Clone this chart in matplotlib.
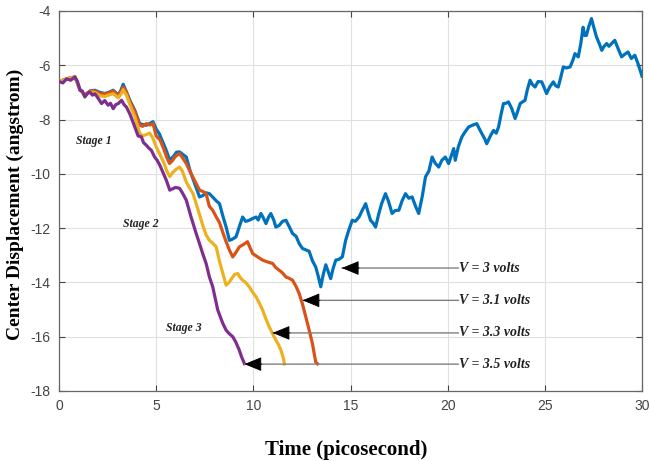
import matplotlib
matplotlib.use("Agg")
import matplotlib.pyplot as plt

plt.rcParams["axes.unicode_minus"] = False

# ---- data ----
blue_x = [0.0, 0.39, 0.82, 1.08, 1.33, 1.59, 1.85, 2.1, 2.36, 2.55, 2.79, 3.05, 3.2, 3.3, 3.47, 3.65, 3.9,
          4.15, 4.3, 4.5, 4.65, 4.84, 5.0, 5.16, 5.35, 5.5, 5.7, 5.9, 6.05, 6.2, 6.4, 6.55, 6.75, 7.0, 7.23,
          7.4, 7.57, 7.74, 7.9, 8.1, 8.26, 8.45, 8.6, 8.77, 8.94, 9.11, 9.3, 9.45, 9.6, 9.79, 9.95, 10.14,
          10.25, 10.39, 10.5, 10.65, 10.78, 10.9, 11.05, 11.16, 11.33, 11.5, 11.68, 11.85, 12.02, 12.2,
          12.36, 12.53, 12.7, 12.87, 13.04, 13.21, 13.35, 13.47, 13.6, 13.73, 13.85, 13.98, 14.1, 14.24,
          14.4, 14.58, 14.75, 14.9, 15.09, 15.25, 15.44, 15.6, 15.78, 15.9, 16.03, 16.15, 16.29, 16.46,
          16.6, 16.8, 16.95, 17.14, 17.3, 17.49, 17.65, 17.83, 18.0, 18.17, 18.35, 18.51, 18.7, 18.86,
          19.03, 19.2, 19.35, 19.54, 19.7, 19.88, 20.05, 20.2, 20.31, 20.39, 20.55, 20.73, 20.9, 21.08,
          21.3, 21.5, 21.6, 21.76, 21.9, 22.01, 22.2, 22.36, 22.5, 22.62, 22.75, 22.87, 23.0, 23.13, 23.3,
          23.47, 23.6, 23.73, 23.85, 23.98, 24.1, 24.24, 24.35, 24.5, 24.65, 24.84, 24.95, 25.09, 25.25,
          25.44, 25.55, 25.69, 25.8, 25.95, 26.1, 26.3, 26.45, 26.55, 26.72, 26.85, 26.97, 27.05, 27.14,
          27.25, 27.4, 27.5, 27.66, 27.8, 27.93, 28.05, 28.18, 28.3, 28.44, 28.6, 28.75, 28.95, 29.1,
          29.28, 29.45, 29.63, 29.8, 30.0]
blue_y = [-6.6, -6.5, -6.43, -6.9, -7.1, -6.95, -6.92, -7.0, -7.04, -7.0, -6.92, -7.1, -6.9, -6.7, -6.98,
          -7.3, -7.66, -8.15, -8.18, -8.21, -8.15, -8.08, -8.35, -8.52, -8.85, -9.1, -9.5, -9.35, -9.2,
          -9.19, -9.3, -9.38, -9.9, -10.4, -10.85, -10.8, -10.7, -10.73, -10.85, -11.0, -11.1, -11.6,
          -11.96, -12.45, -12.4, -12.32, -11.9, -11.59, -11.75, -11.71, -11.65, -11.59, -11.7, -11.46,
          -11.6, -11.83, -11.6, -11.46, -11.7, -11.96, -11.9, -11.75, -11.71, -11.95, -12.2, -12.3,
          -12.57, -12.75, -12.8, -12.85, -13.2, -13.43, -13.8, -14.16, -13.7, -13.35, -13.6, -13.86,
          -13.5, -13.18, -13.15, -13.06, -12.45, -12.1, -11.71, -11.75, -11.59, -11.35, -11.1, -11.4,
          -11.71, -11.8, -11.96, -11.46, -11.1, -10.73, -11.0, -11.46, -11.35, -11.34, -11.0, -10.73,
          -10.9, -10.85, -11.2, -11.46, -10.8, -10.11, -9.9, -9.38, -9.6, -9.75, -9.5, -9.38, -9.62,
          -9.3, -9.07, -9.5, -9.0, -8.64, -8.45, -8.27, -8.2, -8.15, -8.3, -8.52, -8.7, -8.89, -8.6,
          -8.4, -8.5, -8.27, -7.8, -7.41, -7.4, -7.35, -7.6, -7.96, -7.7, -7.41, -7.35, -7.29, -6.9,
          -6.55, -6.7, -6.8, -6.6, -6.61, -6.8, -7.04, -6.8, -6.61, -6.75, -6.8, -6.5, -6.06, -6.1,
          -6.06, -5.8, -5.57, -5.69, -5.2, -4.6, -4.9, -4.9, -4.6, -4.28, -4.55, -4.96, -5.2, -5.45,
          -5.3, -5.2, -5.3, -5.2, -5.08, -5.35, -5.69, -5.6, -5.51, -5.75, -5.63, -5.95, -6.4]

red_x = [0.0, 0.39, 0.82, 1.08, 1.33, 1.59, 1.85, 2.1, 2.36, 2.55, 2.79, 3.05, 3.2, 3.3, 3.47, 3.65, 3.9,
         4.15, 4.3, 4.5, 4.67, 4.84, 5.0, 5.2, 5.4, 5.55, 5.69, 5.85, 6.0, 6.2, 6.35, 6.55, 6.8, 7.06,
         7.23, 7.4, 7.57, 7.74, 7.91, 8.1, 8.26, 8.45, 8.6, 8.77, 8.94, 9.1, 9.28, 9.5, 9.7, 9.85, 9.97,
         10.2, 10.48, 10.75, 10.99, 11.15, 11.33, 11.5, 11.68, 11.85, 12.02, 12.2, 12.36, 12.53, 12.7,
         12.87, 13.04, 13.21, 13.3]
red_y = [-6.6, -6.5, -6.43, -6.9, -7.1, -6.95, -6.95, -7.05, -7.05, -7.02, -6.95, -7.12, -6.95, -6.8,
         -7.0, -7.35, -7.7, -8.2, -8.25, -8.15, -8.2, -8.15, -8.6, -8.75, -9.1, -9.4, -9.62, -9.5,
         -9.35, -9.25, -9.4, -9.62, -10.0, -10.36, -10.6, -10.65, -10.73, -11.2, -11.34, -11.6, -11.8,
         -12.2, -12.5, -12.81, -13.06, -12.9, -12.69, -12.6, -12.5, -12.75, -12.94, -13.05, -13.18,
         -13.25, -13.3, -13.45, -13.55, -13.65, -13.8, -13.85, -13.92, -14.15, -14.41, -14.8, -15.27,
         -15.75, -16.25, -16.93, -17.0]

yellow_x = [0.0, 0.39, 0.82, 1.08, 1.33, 1.59, 1.85, 2.1, 2.36, 2.55, 2.79, 3.05, 3.2, 3.3, 3.47, 3.65,
            3.9, 4.15, 4.3, 4.5, 4.67, 4.84, 5.0, 5.2, 5.4, 5.55, 5.7, 5.85, 6.0, 6.2, 6.35, 6.55, 6.7,
            6.9, 7.06, 7.23, 7.4, 7.57, 7.74, 7.9, 8.09, 8.25, 8.43, 8.6, 8.75, 8.94, 9.05, 9.2, 9.3,
            9.45, 9.6, 9.79, 9.95, 10.14, 10.3, 10.48, 10.65, 10.82, 11.0, 11.16, 11.3, 11.42, 11.55, 11.6]
yellow_y = [-6.6, -6.5, -6.43, -6.9, -7.12, -6.98, -7.0, -7.12, -7.15, -7.1, -7.05, -7.2, -7.05, -6.9,
            -7.1, -7.45, -7.9, -8.5, -8.6, -8.55, -8.5, -8.7, -9.0, -9.3, -9.6, -9.9, -10.1, -9.95,
            -9.85, -9.75, -9.9, -10.3, -10.5, -10.73, -11.1, -11.5, -11.9, -12.25, -12.45, -12.55,
            -12.69, -13.2, -13.67, -14.1, -14.0, -13.8, -13.7, -13.67, -13.8, -13.92, -14.0, -14.16,
            -14.35, -14.53, -14.75, -15.02, -15.35, -15.64, -15.9, -16.13, -16.3, -16.5, -16.8, -17.0]

purple_x = [0.0, 0.2, 0.39, 0.6, 0.82, 0.95, 1.08, 1.2, 1.33, 1.45, 1.59, 1.72, 1.85, 2.0, 2.19, 2.35,
            2.53, 2.65, 2.79, 2.92, 3.05, 3.22, 3.35, 3.47, 3.65, 3.9, 4.07, 4.24, 4.35, 4.5, 4.62,
            4.75, 4.92, 5.05, 5.2, 5.35, 5.52, 5.7, 5.85, 6.0, 6.2, 6.35, 6.55, 6.8, 7.06, 7.23, 7.4,
            7.57, 7.74, 7.91, 8.17, 8.43, 8.6, 8.75, 8.94, 9.1, 9.28, 9.4, 9.54]
purple_y = [-6.6, -6.65, -6.5, -6.55, -6.43, -6.6, -6.92, -6.95, -7.17, -7.05, -6.98, -7.1, -7.05, -7.2,
            -7.41, -7.3, -7.47, -7.4, -7.6, -7.45, -7.41, -7.29, -7.45, -7.54, -7.8, -8.27, -8.6,
            -8.64, -8.85, -8.95, -9.05, -9.13, -9.38, -9.5, -9.7, -9.95, -10.23, -10.6, -10.55, -10.5,
            -10.53, -10.7, -10.97, -11.6, -12.2, -12.57, -12.95, -13.3, -13.8, -14.16, -15.02, -15.51,
            -15.76, -15.88, -16.0, -16.2, -16.5, -16.75, -16.99]

series_labels = ["V = 3 volts", "V = 3.1 volts", "V = 3.3 volts", "V = 3.5 volts"]
arrow_tip_x = [14.55, 12.53, 10.99, 9.54]
arrow_y = [-13.47, -14.66, -15.86, -17.01]
label_start_x = 20.56

stage_labels = ["Stage 1", "Stage 2", "Stage 3"]
stage_x = [1.8, 4.2, 6.44]
stage_y = [-8.79, -11.83, -15.67]

x_ticks = [0, 5, 10, 15, 20, 25, 30]
y_ticks = [-18, -16, -14, -12, -10, -8, -6, -4]

# ---- figure ----
fig = plt.figure(figsize=(6.5, 4.61), dpi=100)
ax = fig.add_axes([59 / 650, 1 - 391 / 461, 583 / 650, 380 / 461])

lw = 2.3
ax.plot(blue_x, blue_y, color="#0072BD", lw=lw, zorder=3)
ax.plot(red_x, red_y, color="#D95319", lw=lw, zorder=4)
ax.plot(yellow_x, yellow_y, color="#EDB120", lw=lw, zorder=5)
ax.plot(purple_x, purple_y, color="#7E2F8E", lw=lw, zorder=6)

ax.set_xlim(0, 30)
ax.set_ylim(-18, -4)
ax.set_xticks(x_ticks)
ax.set_yticks(y_ticks)
ax.grid(True, color="#e0e0e0", lw=0.8)
ax.set_axisbelow(True)

tick_font = "Liberation Sans"
ax.tick_params(direction="in", length=4, width=0.8, top=True, right=True,
               labelsize=10, colors="#444444", pad=6)
for lab in ax.get_xticklabels() + ax.get_yticklabels():
    lab.set_family(tick_font)
for s in ax.spines.values():
    s.set_color("#666666")
    s.set_linewidth(0.9)

ax.set_xlabel("Time (picosecond)", family="Liberation Serif", fontweight="bold", fontsize=15)
ax.set_ylabel("Center Displacement (angstrom)", family="Liberation Serif", fontweight="bold",
              fontsize=14)
ax.xaxis.set_label_coords(0.493, -0.128)
ax.yaxis.set_label_coords(-0.06, 0.49)

for lab, tx, ty in zip(series_labels, arrow_tip_x, arrow_y):
    ax.annotate("", xy=(tx, ty), xytext=(label_start_x, ty),
                arrowprops=dict(arrowstyle="-", color="#808080", lw=1.0, shrinkA=0, shrinkB=0),
                zorder=7)
    ax.annotate("", xy=(tx, ty), xytext=(tx + 0.9, ty),
                arrowprops=dict(arrowstyle="-|>,head_length=1.1,head_width=0.45", color="black",
                                lw=0.6, shrinkA=0, shrinkB=0, mutation_scale=10),
                zorder=8)
    ax.text(label_start_x, ty, lab, ha="left", va="center", family="Liberation Serif",
            fontstyle="italic", fontweight="bold", fontsize=10, color="#222222", zorder=9)

for lab, sx, sy in zip(stage_labels, stage_x, stage_y):
    ax.text(sx, sy, lab, ha="center", va="center", family="Liberation Serif",
            fontstyle="italic", fontweight="bold", fontsize=8.5, color="#222222")

fig.savefig("out.png", dpi=100)
